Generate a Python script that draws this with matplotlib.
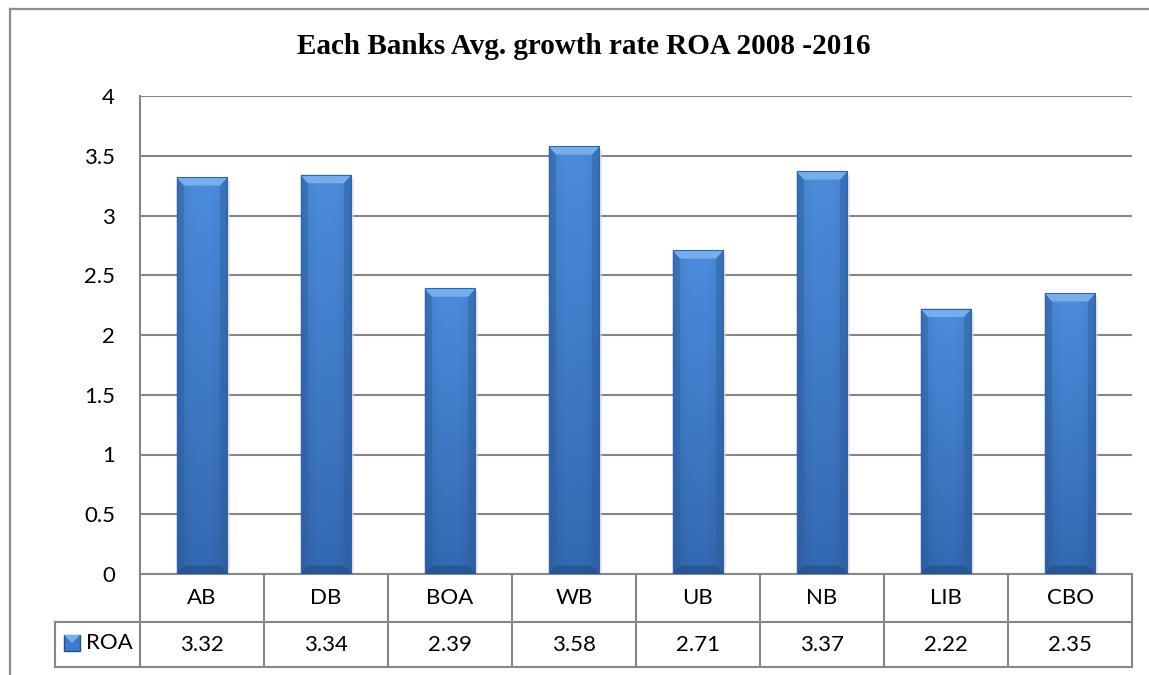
import numpy as np
import matplotlib.pyplot as plt
from matplotlib.lines import Line2D
from matplotlib.patches import Polygon, Rectangle

banks = ['AB', 'DB', 'BOA', 'WB', 'UB', 'NB', 'LIB', 'CBO']
roa = [3.32, 3.34, 2.39, 3.58, 2.71, 3.37, 2.22, 2.35]
series_name = 'ROA'
title = 'Each Banks Avg. growth rate ROA 2008 -2016'
y_ticks = [0, 0.5, 1, 1.5, 2, 2.5, 3, 3.5, 4]

W, H = 1149, 675
GRID = '#868686'
FONT = 'Lato'
FS = 16


def fx(px):
    return px / W


def fy(py):
    return 1 - py / H


fig = plt.figure(figsize=(W / 100, H / 100), dpi=100)
fig.patch.set_facecolor('white')

# outer chart frame (cut off at right and bottom)
fig.add_artist(Line2D([fx(10), 1.01], [fy(9), fy(9)], color='#8c8c8c', lw=1.6))
fig.add_artist(Line2D([fx(10), fx(10)], [fy(9), -0.01], color='#8c8c8c', lw=1.6))

ax = fig.add_axes([fx(140), fy(574), (1132 - 140) / W, (574 - 96) / H])
x = np.arange(len(banks))
bars = ax.bar(x, roa, width=0.41, color='#3d7bcc', zorder=3)
ax.set_yticks(y_ticks)
ax.set_yticklabels([f'{t:g}' for t in y_ticks], fontsize=FS, family=FONT)
ax.tick_params(axis='y', length=0, pad=18)
ax.set_xticks([])
ax.grid(axis='y', color=GRID, lw=1.5, zorder=0)
ax.set_axisbelow(True)
for s in ['top', 'right']:
    ax.spines[s].set_visible(False)
for s in ['left', 'bottom']:
    ax.spines[s].set_color(GRID)
    ax.spines[s].set_linewidth(1.5)

# bevelled bar look
bx, by = 0.06, 0.07
rows = np.linspace(0, 1, 60)[:, None]
cols = np.linspace(0, 1, 30)[None, :]
top_c = np.array([0x4c, 0x8c, 0xdc]) / 255
bot_c = np.array([0x33, 0x69, 0xb2]) / 255
shade = 1 - 0.12 * (np.abs(cols - 0.5) * 2) ** 3
grad = (top_c[None, None, :] * (1 - rows[..., None]) + bot_c[None, None, :] * rows[..., None])
grad = grad * shade[..., None]
for b in bars:
    x0, w, h = b.get_x(), b.get_width(), b.get_height()
    x1 = x0 + w
    ax.add_patch(Rectangle((x1, 0), 0.02, h - 0.03, color='#dadada', alpha=0.6, zorder=2.5, lw=0))
    im = ax.imshow(grad, extent=[x0, x1, 0, h], aspect='auto', zorder=3.2, interpolation='bilinear')
    im.set_clip_path(b)
    ax.add_patch(Polygon([(x0, h), (x1, h), (x1 - bx, h - by), (x0 + bx, h - by)],
                         color='#76aeec', lw=0, zorder=3.4))
    ax.add_patch(Polygon([(x0, h), (x0 + bx, h - by), (x0 + bx, by), (x0, 0)],
                         color='#2e5f9f', alpha=0.45, lw=0, zorder=3.3))
    ax.add_patch(Polygon([(x1, h), (x1 - bx, h - by), (x1 - bx, by), (x1, 0)],
                         color='#2e5f9f', alpha=0.45, lw=0, zorder=3.3))
    ax.add_patch(Polygon([(x0, 0), (x1, 0), (x1 - bx, by), (x0 + bx, by)],
                         color='#24508a', alpha=0.7, lw=0, zorder=3.4))
    ax.add_patch(Rectangle((x0, 0), w, h, fill=False, ec='#2f64a8', lw=0.8, zorder=3.5))
ax.set_xlim(-0.5, len(banks) - 0.5)
ax.set_ylim(0, 4)

# data table under the axis
tr = ax.get_xaxis_transform()
row1 = -(622 - 574) / 478
row2 = -(667 - 574) / 478
leg_left = -0.5 - (140 - 55) / 124
n = len(banks)
kw = dict(color=GRID, lw=1.5, transform=tr, clip_on=False)
ax.plot([leg_left, n - 0.5], [row1, row1], **kw)
ax.plot([leg_left, n - 0.5], [row2, row2], **kw)
ax.plot([leg_left, leg_left], [row1, row2], **kw)
for k in range(n + 1):
    ax.plot([k - 0.5, k - 0.5], [0, row2], **kw)
for i, (name, v) in enumerate(zip(banks, roa)):
    ax.text(i, -(598 - 574) / 478, name, transform=tr, ha='center', va='center',
            fontsize=FS, family=FONT)
    ax.text(i, -(645 - 574) / 478, f'{v:.2f}', transform=tr, ha='center', va='center',
            fontsize=FS, family=FONT)

# legend key in table
fig.add_artist(Rectangle((fx(64), fy(651)), 16 / W, 16 / H, transform=fig.transFigure,
                         fc='#3d7bcc', ec='#24508a', lw=1))
fig.add_artist(Polygon([(fx(64), fy(635)), (fx(80), fy(635)), (fx(72), fy(643))],
                       closed=True, transform=fig.transFigure, fc='#76aeec', lw=0))
fig.text(fx(86), fy(643), series_name, ha='left', va='center', fontsize=FS, family=FONT)

fig.text(fx(584), fy(47), title, ha='center', va='center', fontsize=21,
         family='Liberation Serif', weight='bold')

fig.savefig('out.png', dpi=100)
